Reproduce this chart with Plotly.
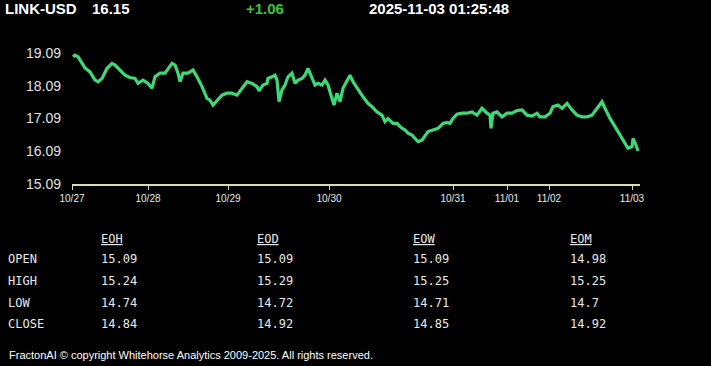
import plotly.graph_objects as go

# ---- data ----
obs_index = [1, 3, 6, 8, 13, 18, 23, 26, 30, 35, 40, 43, 48, 53, 58, 63, 66, 71, 76, 80,
             83, 88, 93, 100, 103, 106, 108, 111, 116, 121, 125, 130, 135, 138, 141, 145, 150, 155, 160, 165,
             170, 175, 180, 185, 187,
             191, 195, 196, 200, 203, 205, 207, 210, 213, 216, 220, 223, 226, 230, 233, 236, 240, 243, 246, 250,
             253, 256, 260, 262, 265, 268, 271, 275, 278, 281, 286, 291, 296, 300, 305, 310, 313, 316, 321, 325,
             330, 333, 336, 340, 343, 346, 350, 353, 356, 361, 366, 371, 375, 378, 381, 385, 390, 395, 400, 405,
             410, 415, 418, 419, 421, 425, 430, 435, 440, 445, 450, 455, 460, 465, 468, 473, 478, 481, 486, 490,
             495, 500, 505, 510, 515, 520, 525, 530, 533, 538, 543, 548, 553, 556, 560, 561, 564, 566]
price = [18.97, 19.02, 18.97, 18.87, 18.63, 18.51, 18.26, 18.21, 18.31, 18.62, 18.77, 18.72, 18.57, 18.41, 18.34, 18.31, 18.16, 18.26, 18.16, 18.01,
         18.36, 18.47, 18.47, 18.77, 18.72, 18.47, 18.21, 18.47, 18.47, 18.57, 18.36, 18.06, 17.70, 17.65, 17.50, 17.65, 17.80, 17.86, 17.86, 17.80,
         18.01, 18.21, 18.16, 18.06, 17.93,
         18.11, 18.16, 18.31, 18.36, 18.41, 18.26, 17.60, 17.96, 18.11, 18.36, 18.47, 18.16, 18.26, 18.31, 18.41, 18.62, 18.36, 18.11, 18.16, 18.11,
         18.26, 18.11, 17.70, 17.50, 17.86, 17.60, 18.01, 18.26, 18.41, 18.21, 17.96, 17.75, 17.55, 17.45, 17.29, 17.19, 16.99, 17.09, 16.94, 16.94,
         16.79, 16.74, 16.64, 16.58, 16.48, 16.38, 16.43, 16.58, 16.69, 16.74, 16.79, 16.94, 16.97, 16.94, 17.09, 17.22, 17.25, 17.25, 17.29, 17.19,
         17.40, 17.25, 17.19, 16.79, 17.25, 17.29, 17.14, 17.25, 17.25, 17.33, 17.35, 17.19, 17.16, 17.25, 17.14, 17.14, 17.25, 17.45, 17.50, 17.40,
         17.55, 17.35, 17.19, 17.14, 17.14, 17.19, 17.40, 17.60, 17.40, 17.09, 16.84, 16.58, 16.33, 16.18, 16.23, 16.48, 16.28, 16.10]

date_tick_pos = [0, 76, 156, 257, 381, 435, 477, 560]
date_tick_labels = ["10/27", "10/28", "10/29", "10/30", "10/31", "11/01", "11/02", "11/03"]
y_ticks = [15.09, 16.09, 17.09, 18.09, 19.09]

symbol = "LINK-USD"
last_price = "16.15"
change = "+1.06"
timestamp = "2025-11-03 01:25:48"

row_labels = ["OPEN", "HIGH", "LOW", "CLOSE"]
col_labels = ["EOH", "EOD", "EOW", "EOM"]
table_values = {
    "EOH": ["15.09", "15.24", "14.74", "14.84"],
    "EOD": ["15.09", "15.29", "14.72", "14.92"],
    "EOW": ["15.09", "15.25", "14.71", "14.85"],
    "EOM": ["14.98", "15.25", "14.7", "14.92"],
}
footer = "FractonAI © copyright Whitehorse Analytics 2009-2025. All rights reserved."

# ---- figure ----
W, H = 711, 366
PL, PR, PT, PB = 72, 71, 46, 182
fig = go.Figure()
fig.add_trace(go.Scatter(x=obs_index, y=price, mode="lines",
                         line=dict(color="#3dd878", width=3.2), hoverinfo="skip"))

fig.update_layout(
    width=W, height=H,
    paper_bgcolor="black", plot_bgcolor="black",
    margin=dict(l=PL, r=PR, t=PT, b=PB),
    showlegend=False,
    font=dict(family="Arial", color="white"),
)
fig.update_xaxes(range=[0, 568], tickmode="array", tickvals=date_tick_pos, ticktext=date_tick_labels,
                 showgrid=False, zeroline=False, showline=True, linecolor="#d8dfae", linewidth=2,
                 ticks="outside", ticklen=4, tickcolor="#d8dfae", tickwidth=1,
                 tickfont=dict(family="Arial", size=10, color="#e8e8e8"))
fig.update_yaxes(range=[15.09, 19.3], tickmode="array", tickvals=y_ticks,
                 ticktext=[f"{v:.2f}" for v in y_ticks],
                 showgrid=False, zeroline=False, showline=False,
                 ticks="", ticklabelstandoff=10,
                 tickfont=dict(family="Arial", size=14, color="#e0e0e0"))

def ptxt(px, py, s, size, color="white", family="Arial", xanchor="left"):
    x0, x1, y0, y1 = PL, W - PR, PT, H - PB
    fig.add_annotation(x=(px - x0) / (x1 - x0), y=(y1 - py) / (y1 - y0), xref="paper", yref="paper",
                       text=s, showarrow=False, xanchor=xanchor, yanchor="middle",
                       font=dict(size=size, color=color, family=family))

ptxt(3, 9, f"<b>{symbol}</b>", 15)
ptxt(90, 9, f"<b>{last_price}</b>", 15)
ptxt(244, 9, f"<b>{change}</b>", 15, color="#3ec23e")
ptxt(367, 9, f"<b>{timestamp}</b>", 15)

col_x = [99, 255, 411, 568]
row_y = [259, 281, 303, 324]
mono = "DejaVu Sans Mono"
for cx, c in zip(col_x, col_labels):
    ptxt(cx, 239, f"<u>{c}</u>", 12, color="#e8e8e8", family=mono)
    for ry, v in zip(row_y, table_values[c]):
        ptxt(cx, ry, v, 12, color="#e8e8e8", family=mono)
for ry, r in zip(row_y, row_labels):
    ptxt(6, ry, r, 12, color="#e8e8e8", family=mono)

ptxt(7, 355, footer, 11, color="white")

fig.write_html("out.html", config={"displayModeBar": False},
               post_script="document.body.style.margin='0';document.body.style.background='black';")
